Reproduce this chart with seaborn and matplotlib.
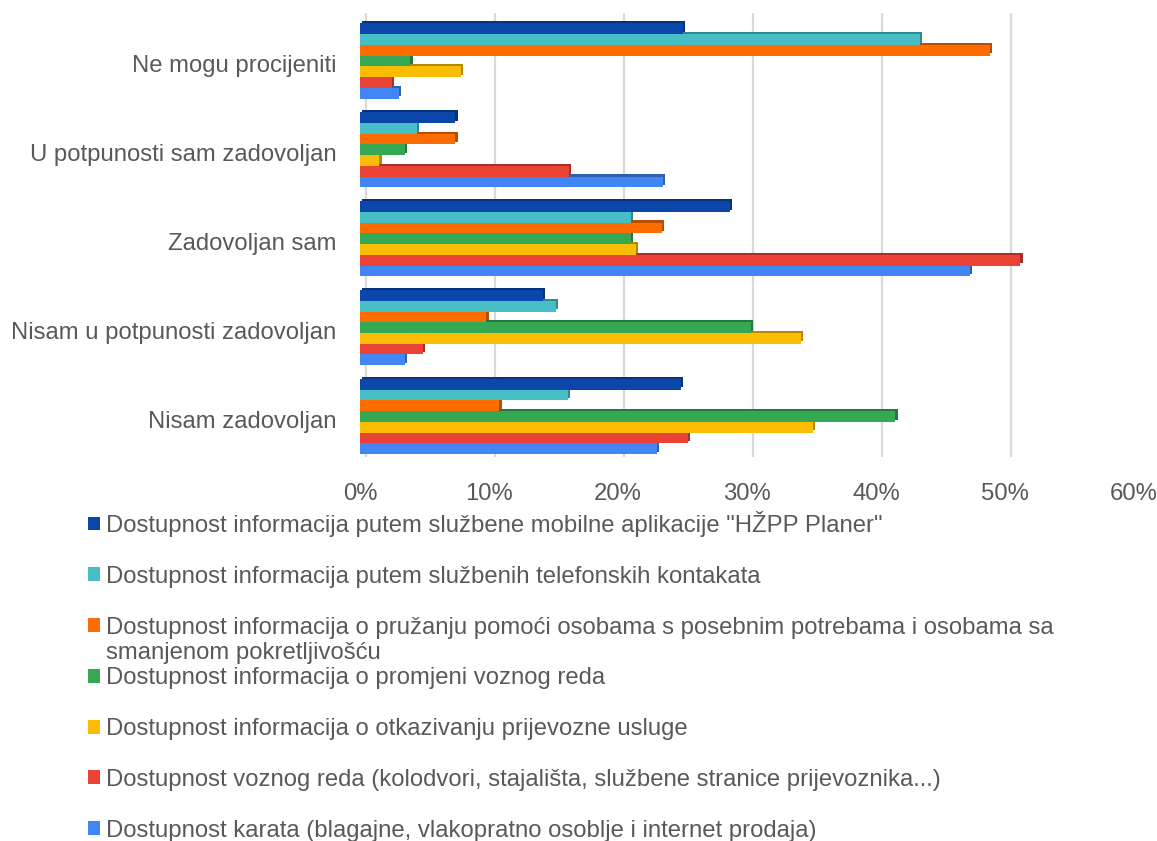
import numpy as np
import pandas as pd
import matplotlib
matplotlib.use("Agg")
import matplotlib.pyplot as plt
import seaborn as sns
from matplotlib import patheffects as pe
from matplotlib.transforms import ScaledTranslation

# ---------------- data ----------------
categories = [
    "Ne mogu procijeniti",
    "U potpunosti sam zadovoljan",
    "Zadovoljan sam",
    "Nisam u potpunosti zadovoljan",
    "Nisam zadovoljan",
]
series_names = [
    'Dostupnost informacija putem službene mobilne aplikacije "HŽPP Planer"',
    "Dostupnost informacija putem službenih telefonskih kontakata",
    "Dostupnost informacija o pružanju pomoći osobama s posebnim potrebama i osobama sa smanjenom pokretljivošću",
    "Dostupnost informacija o promjeni voznog reda",
    "Dostupnost informacija o otkazivanju prijevozne usluge",
    "Dostupnost voznog reda (kolodvori, stajališta, službene stranice prijevoznika...)",
    "Dostupnost karata (blagajne, vlakopratno osoblje i internet prodaja)",
]
planer = [25.0, 7.4, 28.7, 14.2, 24.9]
telefon = [43.4, 4.4, 21.0, 15.2, 16.1]
pomoc = [48.8, 7.4, 23.4, 9.8, 10.8]
promjena = [3.9, 3.5, 21.0, 30.3, 41.5]
otkazivanje = [7.8, 1.5, 21.4, 34.2, 35.1]
vozni_red = [2.5, 16.2, 51.2, 4.9, 25.4]
karte = [3.0, 23.5, 47.3, 3.5, 23.0]
series_values = [planer, telefon, pomoc, promjena, otkazivanje, vozni_red, karte]
colors = ["#0B47AB", "#47BDC6", "#FF6D01", "#34A853", "#FBBC04", "#EA4335", "#4285F4"]
xticks = [0, 10, 20, 30, 40, 50, 60]
xtick_labels = ["0%", "10%", "20%", "30%", "40%", "50%", "60%"]

rows = []
for name, vals in zip(series_names, series_values):
    for cat, v in zip(categories, vals):
        rows.append({"category": cat, "series": name, "value": v})
df = pd.DataFrame(rows)

# ---------------- style ----------------
sns.set_style("white")
plt.rcParams["font.family"] = ["Liberation Sans", "DejaVu Sans"]
TXT = "#595959"
FS = 17.2

W, H = 1157, 841
fig = plt.figure(figsize=(W / 100, H / 100), dpi=100)
top_px, bot_px, left_px, right_px = 12.7, 457, 360, 1134
ax = fig.add_axes([left_px / W, 1 - bot_px / H, (right_px - left_px) / W, (bot_px - top_px) / H])

sns.barplot(
    data=df, x="value", y="category", hue="series", orient="h",
    order=categories, hue_order=series_names, palette=colors,
    saturation=1, width=0.845, errorbar=None, linewidth=0, ax=ax,
)

ax.set_xlim(0, 60)
ax.set_ylim(4.456, -0.543)
ax.set_xticks(xticks)
ax.set_xticklabels(xtick_labels)
ax.set_xlabel("")
ax.set_ylabel("")
for s in ax.spines.values():
    s.set_visible(False)
ax.tick_params(axis="x", length=0, pad=18.5, labelsize=FS, labelcolor=TXT)
ax.tick_params(axis="y", length=0, pad=17, labelsize=FS, labelcolor=TXT)

ax.grid(axis="x", color="#D9D9D9", linewidth=1.6)
ax.grid(axis="y", visible=False)
ax.set_axisbelow(True)
shift = ScaledTranslation(6 / 100, 0, fig.dpi_scale_trans)
for gl in ax.get_xgridlines():
    gl.set_transform(gl.get_transform() + shift)
down = ScaledTranslation(0, -3 / 100, fig.dpi_scale_trans)
for lbl in ax.get_yticklabels():
    lbl.set_transform(lbl.get_transform() + down)

# pseudo 3D look
for i, cont in enumerate(ax.containers):
    for p in cont:
        p.set_path_effects([pe.SimplePatchShadow(offset=(1.6, 1.6), alpha=1, rho=0.72), pe.Normal()])
        p.set_zorder(10 - i)

# legend
sns.move_legend(
    ax, loc="upper left", bbox_to_anchor=(88 / W, 1 - 511 / H),
    bbox_transform=fig.transFigure, title=None, frameon=False,
    fontsize=FS, handlelength=0.52, handleheight=0.52, handletextpad=0.25,
    labelspacing=1.205, borderpad=0, borderaxespad=0,
)
leg = ax.get_legend()
for t in leg.get_texts():
    t.set_color(TXT)
long_txt = leg.get_texts()[2]
first, second = series_names[2].split(" smanjenom")
long_txt.set_text(first)

fig.canvas.draw()
bb = long_txt.get_window_extent()
fig.text(bb.x0 / W, (bb.y0 - 25.5) / H, "smanjenom" + second,
         va="bottom", ha="left", fontsize=FS, color=TXT)

fig.savefig("out.png", dpi=100)
